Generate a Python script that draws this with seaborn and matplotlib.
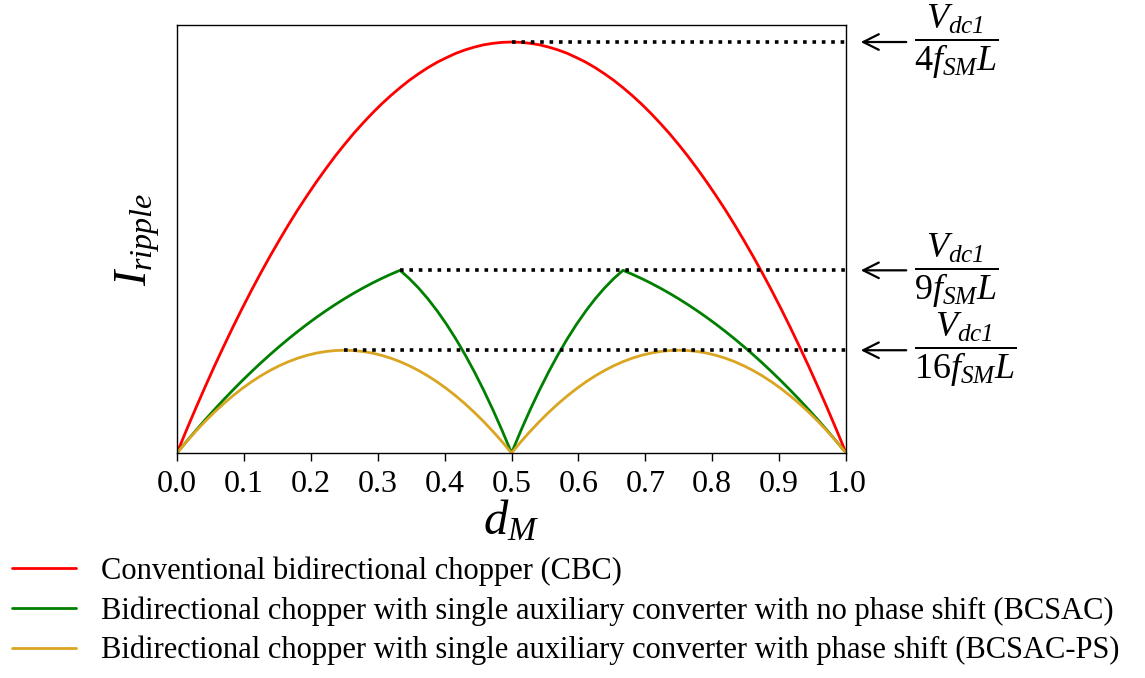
import numpy as np
import pandas as pd
import matplotlib
matplotlib.use("Agg")
import matplotlib.pyplot as plt
import seaborn as sns

d_M = [i / 72 for i in range(73)]

cbc = [0.0, 0.0137, 0.0270, 0.0399, 0.0525, 0.0646, 0.0764, 0.0878, 0.0988,
       0.1094, 0.1196, 0.1294, 0.1389, 0.1480, 0.1566, 0.1649, 0.1728, 0.1804,
       0.1875, 0.1943, 0.2006, 0.2066, 0.2122, 0.2174, 0.2222, 0.2267, 0.2307,
       0.2344, 0.2377, 0.2405, 0.2431, 0.2452, 0.2469, 0.2483, 0.2492, 0.2498,
       0.2500,
       0.2498, 0.2492, 0.2483, 0.2469, 0.2452, 0.2431, 0.2405, 0.2377, 0.2344,
       0.2307, 0.2267, 0.2222, 0.2174, 0.2122, 0.2066, 0.2006, 0.1943, 0.1875,
       0.1804, 0.1728, 0.1649, 0.1566, 0.1480, 0.1389, 0.1294, 0.1196, 0.1094,
       0.0988, 0.0878, 0.0764, 0.0646, 0.0525, 0.0399, 0.0270, 0.0137, 0.0]

bcsac = [0.0, 0.00685, 0.01350, 0.01997, 0.02623, 0.03231, 0.03819, 0.04389,
         0.04938, 0.05469, 0.05980, 0.06472, 0.06944, 0.07398, 0.07832, 0.08247,
         0.08642, 0.09018, 0.09375, 0.09713, 0.10031, 0.10330, 0.10610, 0.10870,
         0.11111, 0.10610, 0.10031, 0.09375, 0.08642, 0.07832, 0.06944, 0.05980,
         0.04938, 0.03819, 0.02623, 0.01350, 0.0,
         0.01350, 0.02623, 0.03819, 0.04938, 0.05980, 0.06944, 0.07832, 0.08642,
         0.09375, 0.10031, 0.10610, 0.11111, 0.10870, 0.10610, 0.10330, 0.10031,
         0.09713, 0.09375, 0.09018, 0.08642, 0.08247, 0.07832, 0.07398, 0.06944,
         0.06472, 0.05980, 0.05469, 0.04938, 0.04389, 0.03819, 0.03231, 0.02623,
         0.01997, 0.01350, 0.00685, 0.0]

bcsac_ps = [0.0, 0.00675, 0.01312, 0.01910, 0.02469, 0.02990, 0.03472, 0.03916,
            0.04321, 0.04688, 0.05015, 0.05305, 0.05556, 0.05768, 0.05941, 0.06076,
            0.06173, 0.06231, 0.06250, 0.06231, 0.06173, 0.06076, 0.05941, 0.05768,
            0.05556, 0.05305, 0.05015, 0.04688, 0.04321, 0.03916, 0.03472, 0.02990,
            0.02469, 0.01910, 0.01312, 0.00675, 0.0,
            0.00675, 0.01312, 0.01910, 0.02469, 0.02990, 0.03472, 0.03916,
            0.04321, 0.04688, 0.05015, 0.05305, 0.05556, 0.05768, 0.05941, 0.06076,
            0.06173, 0.06231, 0.06250, 0.06231, 0.06173, 0.06076, 0.05941, 0.05768,
            0.05556, 0.05305, 0.05015, 0.04688, 0.04321, 0.03916, 0.03472, 0.02990,
            0.02469, 0.01910, 0.01312, 0.00675, 0.0]

series_labels = [
    "Conventional bidirectional chopper (CBC)",
    "Bidirectional chopper with single auxiliary converter with no phase shift (BCSAC)",
    "Bidirectional chopper with single auxiliary converter with phase shift (BCSAC-PS)",
]
series_colors = ["#ff0000", "#008000", "#daa520"]
# \mathbf slot is mapped to an italic serif below so that the "1" is italic
peak_labels = [r"$\dfrac{V_{dc\mathbf{1}}}{4f_{SM}L}$",
               r"$\dfrac{V_{dc\mathbf{1}}}{9f_{SM}L}$",
               r"$\dfrac{V_{dc\mathbf{1}}}{16f_{SM}L}$"]
xtick_vals = [0.0, 0.1, 0.2, 0.3, 0.4, 0.5, 0.6, 0.7, 0.8, 0.9, 1.0]
xtick_labels = ["0.0", "0.1", "0.2", "0.3", "0.4", "0.5", "0.6", "0.7", "0.8", "0.9", "1.0"]

# ---- style ----
sns.set_theme(style="ticks")
plt.rcParams["font.family"] = ["Liberation Serif", "DejaVu Serif"]
plt.rcParams["mathtext.fontset"] = "custom"
plt.rcParams["mathtext.rm"] = "Liberation Serif"
plt.rcParams["mathtext.it"] = "Liberation Serif:italic"
plt.rcParams["mathtext.bf"] = "Liberation Serif:italic"
plt.rcParams["mathtext.fallback"] = "stix"
plt.rcParams["axes.edgecolor"] = "black"
plt.rcParams["axes.linewidth"] = 1.0
plt.rcParams["text.color"] = "black"
plt.rcParams["axes.labelcolor"] = "black"
plt.rcParams["xtick.color"] = "black"
plt.rcParams["ytick.color"] = "black"

fig = plt.figure(figsize=(11.45, 6.78), dpi=100)
ax = fig.add_axes([0.1546, 0.3319, 0.7389 - 0.1546, 0.963 - 0.3319])

all_series = [cbc, bcsac, bcsac_ps]
df = pd.DataFrame({
    "d": np.tile(d_M, 3),
    "val": np.concatenate(all_series),
    "series": np.repeat(series_labels, len(d_M)),
})
sns.lineplot(data=df, x="d", y="val", hue="series", hue_order=series_labels,
             palette=series_colors, linewidth=2.0, ax=ax, legend=True)
handles, labels = ax.get_legend_handles_labels()
ax.get_legend().remove()

ax.set_xlim(0, 1)
ax.set_ylim(0, 0.2603)
ax.set_yticks([])
ax.set_xticks(xtick_vals)
ax.set_xticklabels(xtick_labels, fontsize=23)
ax.tick_params(axis="x", direction="out", length=6, width=1, color="black", pad=6)
for s in ax.spines.values():
    s.set_visible(True)
    s.set_color("black")

ax.set_xlabel(r"$d_M$", fontsize=35, labelpad=0)
ax.set_ylabel(r"$I_{ripple}$", fontsize=33, labelpad=11)

# dotted reference lines, arrows, and peak labels
for ser, lab in zip(all_series, peak_labels):
    arr = np.asarray(ser)
    k = int(np.argmax(arr))
    pk = arr[k]
    ax.plot([d_M[k], 1.006], [pk, pk], linestyle=(0, (1, 1.6)), color="black",
            linewidth=2.6, clip_on=False)
    ax.annotate("", xy=(1.022, pk), xytext=(1.09, pk), xycoords="data",
                arrowprops=dict(arrowstyle="->", lw=1.6, color="black",
                                mutation_scale=28, shrinkA=0, shrinkB=0),
                annotation_clip=False)
    ax.text(1.101, pk, lab, fontsize=26, ha="left", va="center",
            transform=ax.transData, clip_on=False)

fig.legend(handles, labels, loc="upper left", bbox_to_anchor=(0.0, 0.197),
           frameon=False, fontsize=22, handlelength=2.1, handletextpad=0.8,
           labelspacing=0.33, borderaxespad=0.0, borderpad=0.4)

fig.savefig("out.png", dpi=100)
